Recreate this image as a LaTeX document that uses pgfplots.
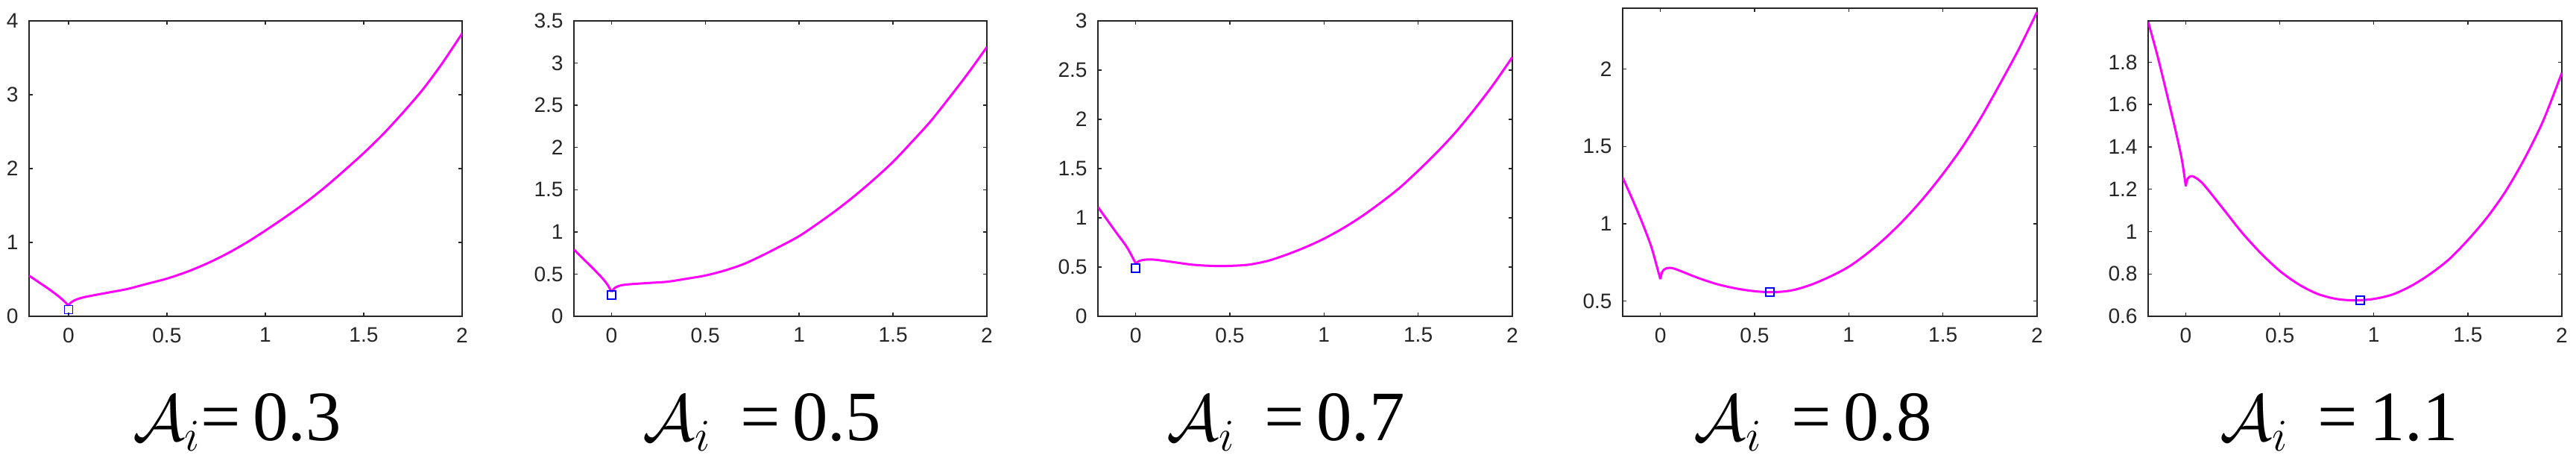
\documentclass[border=0pt]{standalone}
\usepackage{pgfplots}
\pgfplotsset{compat=1.18}
\usepackage{fontspec}
\setmainfont{Liberation Sans}
\newfontfamily\tnr{Liberation Serif}
\definecolor{axgray}{RGB}{38,38,38}
\definecolor{mag}{RGB}{255,0,255}

\pgfplotsset{
  mpanel/.style={
    scale only axis,
    anchor=south west,
    xmin=-0.2, xmax=2,
    xtick={0,0.5,1,1.5,2},
    tick align=inside,
    major tick length=0.05cm,
    axis line style={axgray, line width=0.4pt},
    every tick/.style={axgray, line width=0.4pt},
    tick label style={font=\fontsize{8}{9.6}\selectfont, text=axgray},
    /pgf/number format/assume math mode=true,
    xticklabel style={yshift=-0.03cm},
    yticklabel style={xshift=-0.02cm},
  },
  curve/.style={mag, line width=0.85pt, smooth, tension=0.5, no marks},
  minpt/.style={only marks, mark=square, mark size=0.055cm, blue, mark options={line width=0.4pt}},
}

\begin{document}
\begin{tikzpicture}

% A_i = 0.3
\begin{axis}[mpanel, at={(0.39cm,1.98cm)}, width=5.81cm, height=3.96cm,
  ymin=0, ymax=4, ytick={0,1,2,3,4}]
\addplot[curve] coordinates {(-0.2,0.55) (-0.15,0.46) (-0.1,0.37) (-0.05,0.27) (-0.02,0.20) (0,0.145)};
\addplot[curve] coordinates {(0,0.145) (0.01,0.18) (0.03,0.215) (0.06,0.245) (0.1,0.27) (0.2,0.32)
  (0.3,0.37) (0.4,0.44) (0.5,0.51) (0.6,0.60) (0.7,0.71) (0.8,0.84) (0.9,0.99) (1.0,1.16)
  (1.1,1.34) (1.2,1.53) (1.3,1.74) (1.4,1.97) (1.5,2.21) (1.6,2.47) (1.7,2.76) (1.8,3.07)
  (1.9,3.43) (2.0,3.83)};
\addplot[minpt] coordinates {(0,0.09)};
\end{axis}

% A_i = 0.5
\begin{axis}[mpanel, at={(7.70cm,1.98cm)}, width=5.54cm, height=3.96cm,
  ymin=0, ymax=3.5, ytick={0,0.5,1,1.5,2,2.5,3,3.5}]
\addplot[curve] coordinates {(-0.2,0.79) (-0.15,0.68) (-0.1,0.57) (-0.05,0.455) (-0.02,0.37) (0,0.29)};
\addplot[curve] coordinates {(0,0.29) (0.02,0.34) (0.05,0.366) (0.1,0.38) (0.2,0.395) (0.3,0.41)
  (0.4,0.445) (0.5,0.483) (0.6,0.54) (0.7,0.615) (0.8,0.717) (0.9,0.83) (1.0,0.95) (1.1,1.10)
  (1.2,1.26) (1.3,1.435) (1.4,1.625) (1.5,1.83) (1.6,2.065) (1.7,2.31) (1.8,2.59) (1.9,2.88) (2.0,3.19)};
\addplot[minpt] coordinates {(0,0.25)};
\end{axis}

% A_i = 0.7
\begin{axis}[mpanel, at={(14.73cm,1.98cm)}, width=5.56cm, height=3.96cm,
  ymin=0, ymax=3, ytick={0,0.5,1,1.5,2,2.5,3}]
\addplot[curve] coordinates {(-0.2,1.11) (-0.15,0.976) (-0.1,0.843) (-0.05,0.713) (-0.02,0.612) (0,0.537)};
\addplot[curve] coordinates {(0,0.537) (0.02,0.562) (0.05,0.575) (0.1,0.575) (0.2,0.55) (0.3,0.524)
  (0.4,0.512) (0.5,0.512) (0.6,0.524) (0.7,0.562) (0.8,0.625) (0.9,0.70) (1.0,0.788) (1.1,0.893)
  (1.2,1.014) (1.3,1.152) (1.4,1.302) (1.5,1.478) (1.6,1.666) (1.7,1.872) (1.8,2.105) (1.9,2.356) (2.0,2.632)};
\addplot[minpt] coordinates {(0,0.49)};
\end{axis}

% A_i = 0.8
\begin{axis}[mpanel, at={(21.77cm,1.98cm)}, width=5.56cm, height=4.13cm,
  ymin=0.402, ymax=2.393, ytick={0.5,1,1.5,2}]
\addplot[curve] coordinates {(-0.2,1.298) (-0.15,1.162) (-0.1,1.018) (-0.05,0.858) (-0.02,0.73) (0,0.642)};
\addplot[curve] coordinates {(0,0.642) (0.01,0.69) (0.03,0.711) (0.06,0.714) (0.1,0.698) (0.2,0.65)
  (0.3,0.61) (0.4,0.582) (0.5,0.564) (0.6,0.558) (0.7,0.57) (0.8,0.606) (0.9,0.658) (1.0,0.722)
  (1.1,0.81) (1.2,0.914) (1.3,1.034) (1.4,1.17) (1.5,1.322) (1.6,1.49) (1.7,1.682) (1.8,1.898)
  (1.9,2.122) (2.0,2.37)};
\addplot[minpt] coordinates {(0.582,0.558)};
\end{axis}

% A_i = 1.1
\begin{axis}[mpanel, at={(28.82cm,1.98cm)}, width=5.55cm, height=3.96cm,
  ymin=0.6, ymax=1.995, ytick={0.6,0.8,1,1.2,1.4,1.6,1.8}]
\addplot[curve] coordinates {(-0.2,1.99) (-0.15,1.828) (-0.1,1.647) (-0.05,1.46) (-0.02,1.335) (0,1.214)};
\addplot[curve] coordinates {(0,1.214) (0.01,1.25) (0.03,1.262) (0.06,1.25) (0.1,1.217) (0.2,1.106)
  (0.3,0.994) (0.4,0.897) (0.5,0.814) (0.6,0.751) (0.7,0.706) (0.8,0.682) (0.9,0.675) (1.0,0.682)
  (1.1,0.703) (1.2,0.744) (1.3,0.80) (1.4,0.869) (1.5,0.96) (1.6,1.064) (1.7,1.189) (1.8,1.342)
  (1.9,1.522) (2.0,1.75)};
\addplot[minpt] coordinates {(0.927,0.675)};
\end{axis}

% panel captions
\begin{scope}[every node/.style={anchor=base, inner sep=0pt, font=\tnr\fontsize{27}{32}\selectfont}]
\node at (3.18cm,0.31cm) {$\mathcal{A}_{i}$=\,0.3};
\node at (10.22cm,0.31cm) {$\mathcal{A}_{i}$\, =\,0.5};
\node at (17.25cm,0.31cm) {$\mathcal{A}_{i}$\, =\,0.7};
\node at (24.32cm,0.31cm) {$\mathcal{A}_{i}$\, =\,0.8};
\node at (31.38cm,0.31cm) {$\mathcal{A}_{i}$\, =\,1.1};
\end{scope}

\pgfresetboundingbox
\path (0,0) rectangle (34.56cm,6.22cm);
\end{tikzpicture}
\end{document}
